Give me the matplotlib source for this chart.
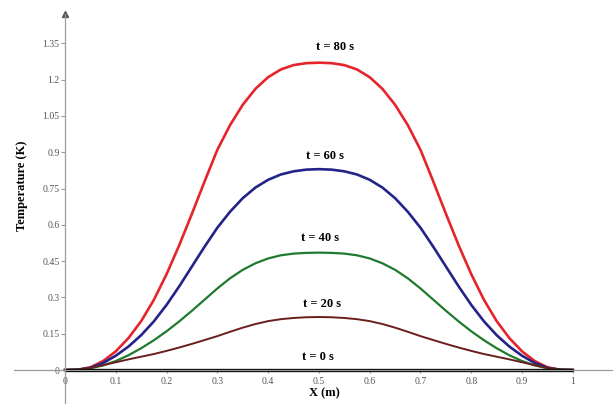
import numpy as np
import matplotlib.pyplot as plt

# positions along the rod (m)
x = [0.0, 0.025, 0.05, 0.075, 0.1, 0.125, 0.15, 0.175, 0.2, 0.225, 0.25, 0.275,
     0.3, 0.325, 0.35, 0.375, 0.4, 0.425, 0.45, 0.475, 0.5, 0.525, 0.55, 0.575,
     0.6, 0.625, 0.65, 0.675, 0.7, 0.725, 0.75, 0.775, 0.8, 0.825, 0.85, 0.875,
     0.9, 0.925, 0.95, 0.975, 1.0]

# temperature readings (K) for each time
T0 = [0.0] * 41
T20 = [0.0, 0.002, 0.009, 0.020, 0.032, 0.044, 0.055, 0.066, 0.079, 0.093, 0.108,
       0.124, 0.140, 0.158, 0.175, 0.190, 0.202, 0.210, 0.215, 0.218, 0.219,
       0.218, 0.215, 0.210, 0.202, 0.190, 0.175, 0.158, 0.140, 0.124, 0.108,
       0.093, 0.079, 0.066, 0.055, 0.044, 0.032, 0.020, 0.009, 0.002, 0.0]
T40 = [0.0, 0.001, 0.007, 0.019, 0.037, 0.061, 0.090, 0.123, 0.160, 0.201, 0.245,
       0.291, 0.337, 0.379, 0.414, 0.441, 0.461, 0.474, 0.481, 0.484, 0.485,
       0.484, 0.481, 0.474, 0.461, 0.441, 0.414, 0.379, 0.337, 0.291, 0.245,
       0.201, 0.160, 0.123, 0.090, 0.061, 0.037, 0.019, 0.007, 0.001, 0.0]
T60 = [0.0, 0.001, 0.009, 0.029, 0.059, 0.097, 0.144, 0.201, 0.269, 0.346, 0.428,
       0.510, 0.588, 0.654, 0.710, 0.754, 0.786, 0.808, 0.821, 0.828, 0.830,
       0.828, 0.821, 0.808, 0.786, 0.754, 0.710, 0.654, 0.588, 0.510, 0.428,
       0.346, 0.269, 0.201, 0.144, 0.097, 0.059, 0.029, 0.009, 0.001, 0.0]
T80 = [0.0, 0.001, 0.011, 0.037, 0.077, 0.132, 0.202, 0.290, 0.396, 0.516, 0.646,
       0.780, 0.910, 1.012, 1.096, 1.162, 1.210, 1.242, 1.260, 1.268, 1.270,
       1.268, 1.260, 1.242, 1.210, 1.162, 1.096, 1.012, 0.910, 0.780, 0.646,
       0.516, 0.396, 0.290, 0.202, 0.132, 0.077, 0.037, 0.011, 0.001, 0.0]

labels = ['t = 0 s', 't = 20 s', 't = 40 s', 't = 60 s', 't = 80 s']
label_pos = [(0.498, 0.054), (0.506, 0.273), (0.502, 0.545), (0.512, 0.884), (0.531, 1.335)]

yticks = [0, 0.15, 0.3, 0.45, 0.6, 0.75, 0.9, 1.05, 1.2, 1.35]
ytick_labels = ['0', '0.15', '0.3', '0.45', '0.6', '0.75', '0.9', '1.05', '1.2', '1.35']
xticks = [0, 0.1, 0.2, 0.3, 0.4, 0.5, 0.6, 0.7, 0.8, 0.9, 1]
xtick_labels = ['0', '0.1', '0.2', '0.3', '0.4', '0.5', '0.6', '0.7', '0.8', '0.9', '1']

plt.rcParams['font.family'] = ['Liberation Serif', 'DejaVu Serif']

fig = plt.figure(figsize=(6.16, 4.05), dpi=100)
ax = fig.add_axes([0, 0, 1, 1])
ax.set_xlim(-0.128, 1.085)
ax.set_ylim(-0.1446, 1.529)

axis_col = '#9a9a9a'
for s in ['top', 'right']:
    ax.spines[s].set_visible(False)
ax.spines['left'].set_position(('data', 0))
ax.spines['bottom'].set_position(('data', 0))
ax.spines['left'].set_bounds(-0.135, 1.47)
ax.spines['bottom'].set_bounds(-0.10, 1.077)
for s in ['left', 'bottom']:
    ax.spines[s].set_color(axis_col)
    ax.spines[s].set_linewidth(0.9)
ax.plot([0], [1.47], marker='^', color='#555555', markersize=4, clip_on=False)

ax.set_yticks(yticks)
ax.set_yticklabels(ytick_labels)
ax.set_xticks(xticks)
ax.set_xticklabels(xtick_labels)
ax.tick_params(axis='y', direction='out', length=3, width=0.8, color=axis_col,
               labelsize=7, labelcolor='#555555', pad=1)
ax.tick_params(axis='x', direction='out', length=2, width=0.8, color=axis_col,
               labelsize=7, labelcolor='#555555', pad=3)

ax.plot(x, T80, color='#e5242b', lw=1.9, solid_joinstyle='round')
ax.plot(x, T60, color='#23238a', lw=1.9, solid_joinstyle='round')
ax.plot(x, T40, color='#1f7a2e', lw=1.6, solid_joinstyle='round')
ax.plot(x, T20, color='#6a1e1e', lw=1.4, solid_joinstyle='round')
ax.plot(x, T0, color='black', lw=2.4, solid_capstyle='butt')

for lab, (px, py) in zip(labels, label_pos):
    ax.text(px, py, lab, ha='center', va='center', fontsize=9, fontweight='bold')

ax.text(0.51, -0.095, 'X (m)', ha='center', va='center', fontsize=9, fontweight='bold')
ax.text(-0.085, 0.76, 'Temperature (K)', ha='center', va='center', rotation=90,
        fontsize=9, fontweight='bold')

fig.savefig('out.png', dpi=100)
